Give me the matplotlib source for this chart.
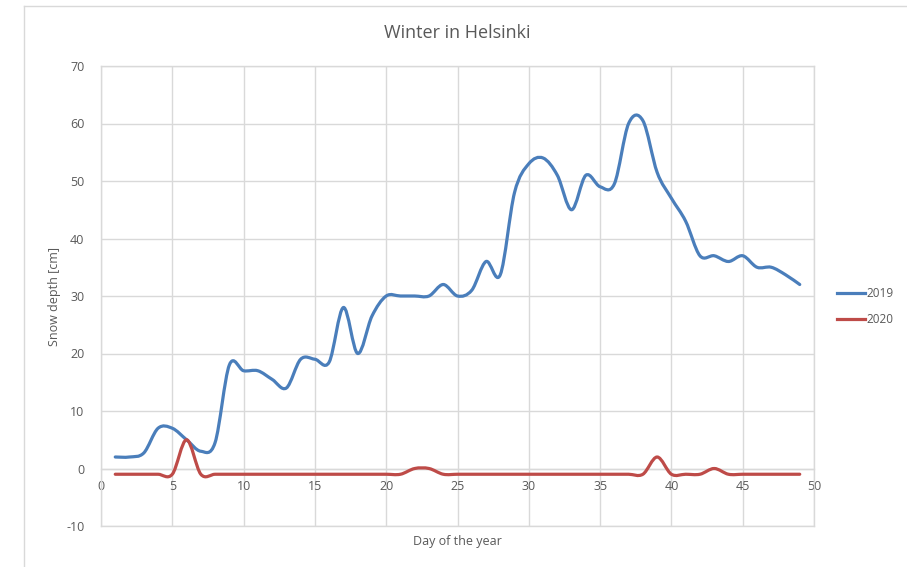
import matplotlib
matplotlib.use("Agg")
import matplotlib.pyplot as plt
from matplotlib.path import Path
from matplotlib.patches import PathPatch
from matplotlib.lines import Line2D
import numpy as np

# snow depth in cm
days = list(range(1, 50))
depth_2019 = [2, 2, 2.7, 7, 7, 5, 3, 4.5, 18, 17, 17, 15.5, 14, 19, 19, 18.5, 28, 20, 26.5, 30,
              30, 30, 30, 32, 30, 31, 36, 33.7, 48, 53, 54, 51, 45, 51, 49, 49.5, 60, 60.5, 51.5, 47,
              43, 37, 37, 36, 37, 35, 35, 33.7, 32]
depth_2020 = [-1, -1, -1, -1, -1, 5, -1, -1, -1, -1, -1, -1, -1, -1, -1, -1, -1, -1, -1, -1,
              -1, 0, 0, -1, -1, -1, -1, -1, -1, -1, -1, -1, -1, -1, -1, -1, -1, -1, 2, -1,
              -1, -1, 0, -1, -1, -1, -1, -1, -1]
series = [("2019", depth_2019, "#4a7ebb"), ("2020", depth_2020, "#be4b48")]

TXT = "#595959"
GRID = "#d9d9d9"


def smooth_path(x, y):
    # excel style smoothed line: cubic bezier through every point
    pts = np.column_stack([x, y]).astype(float)
    n = len(pts)
    verts = [pts[0]]
    codes = [Path.MOVETO]
    for i in range(n - 1):
        p_prev = pts[i - 1] if i > 0 else pts[i]
        p_next2 = pts[i + 2] if i + 2 < n else pts[i + 1]
        c1 = pts[i] + (pts[i + 1] - p_prev) / 6.0
        c2 = pts[i + 1] - (p_next2 - pts[i]) / 6.0
        verts += [c1, c2, pts[i + 1]]
        codes += [Path.CURVE4] * 3
    return Path(verts, codes)


plt.rcParams['font.family'] = ['Open Sans', 'DejaVu Sans']
plt.rcParams['axes.unicode_minus'] = False

fig = plt.figure(figsize=(9.07, 5.67), dpi=100)
ax = fig.add_axes([101 / 907, 1 - 526 / 567, 713 / 907, 460 / 567])

# chart area border (left and top only visible)
fig.add_artist(Line2D([24 / 907, 24 / 907], [0, 1 - 6 / 567], color=GRID, lw=1.0, transform=fig.transFigure))
fig.add_artist(Line2D([24 / 907, 1], [1 - 6 / 567, 1 - 6 / 567], color=GRID, lw=1.0, transform=fig.transFigure))

handles = []
for name, vals, col in series:
    patch = PathPatch(smooth_path(days, vals), facecolor="none", edgecolor=col, lw=2.3,
                      capstyle="round", joinstyle="round", zorder=3)
    ax.add_patch(patch)
    handles.append(Line2D([], [], color=col, lw=2.3))

ax.set_xlim(0, 50)
ax.set_ylim(-10, 70)
ax.set_xticks(range(0, 51, 5))
ax.set_yticks(range(-10, 71, 10))
ax.grid(True, color=GRID, lw=1.0)
ax.set_axisbelow(True)

for s in ["top", "right", "left"]:
    ax.spines[s].set_color(GRID)
    ax.spines[s].set_linewidth(1.0)
ax.spines["bottom"].set_position(("data", 0))
ax.spines["bottom"].set_color(GRID)
ax.spines["bottom"].set_linewidth(1.0)
ax.axhline(-10, color=GRID, lw=1.0, clip_on=False)

ax.tick_params(axis="both", length=0, colors=TXT, labelsize=9)
ax.tick_params(axis="y", pad=12)
ax.tick_params(axis="x", pad=8)

ax.set_title("Winter in Helsinki", color=TXT, fontsize=13, pad=20)
ax.set_ylabel("Snow depth [cm]", color=TXT, fontsize=9, labelpad=4)
ax.text(0.5, -0.02, "Day of the year", transform=ax.transAxes, ha="center", va="top",
        color=TXT, fontsize=9)

fig.legend(handles, ["2019", "2020"], loc="upper left", bbox_to_anchor=(832 / 907, 1 - 282 / 567),
           frameon=False, fontsize=8.5, labelcolor=TXT, handlelength=2.4, handletextpad=0.1,
           labelspacing=1.1, borderaxespad=0)

fig.savefig("out.png", dpi=100)
